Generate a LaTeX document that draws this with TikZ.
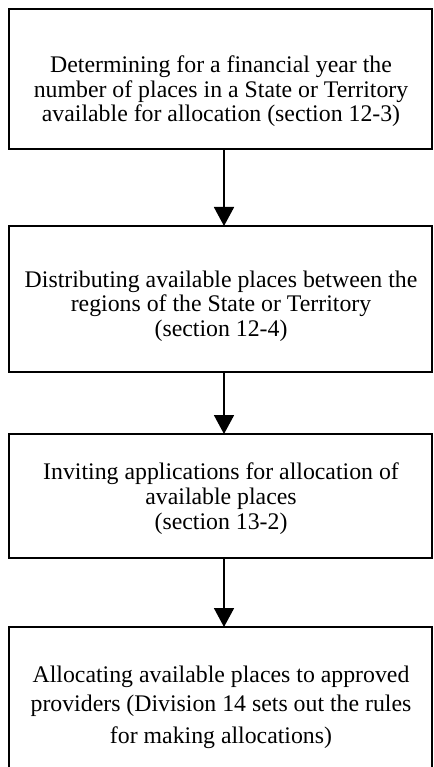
\documentclass[tikz,border=0pt]{standalone}
\usepackage{fontspec}
\setmainfont{Liberation Serif}
\usetikzlibrary{arrows.meta}
\begin{document}
\begin{tikzpicture}[x=1pt,y=-1pt,
  stepbox/.style={draw=black,line width=1.8pt,rectangle,minimum width=423pt,inner sep=0pt,outer sep=0pt},
  txt/.style={anchor=base,inner sep=0pt,font=\fontsize{23.8}{24.5}\selectfont},
  flow/.style={line width=1.8pt,-{Triangle[width=20pt,length=19pt]}}]
\useasboundingbox (0,0) rectangle (433,767);
\clip (0,0) rectangle (433,767);
\fill[white] (0,0) rectangle (433,767);
\coordinate (ax) at (224,0);
\node[stepbox,minimum height=140pt] (b1) at (220.5,79) {};
\node[stepbox,minimum height=146pt] (b2) at (220.5,299) {};
\node[stepbox,minimum height=124pt] (b3) at (220.5,496) {};
\node[stepbox,minimum height=173pt] (b4) at (220.5,713.5) {};
\node[txt] (t1a) at (221,73) {Determining for a financial year the};
\node[txt] (t1b) at (221,97.5) {number of places in a State or Territory};
\node[txt] (t1c) at (221,122) {available for allocation (section 12-3)};
\node[txt] (t2a) at (221,287) {Distributing available places between the};
\node[txt] (t2b) at (221,311.5) {regions of the State or Territory};
\node[txt] (t2c) at (221,336) {(section 12-4)};
\node[txt] (t3a) at (221,479) {Inviting applications for allocation of};
\node[txt] (t3b) at (221,504) {available places};
\node[txt] (t3c) at (221,529) {(section 13-2)};
\node[txt] (t4a) at (221,682) {Allocating available places to approved};
\node[txt] (t4b) at (221,711) {providers (Division 14 sets out the rules};
\node[txt] (t4c) at (221,743) {for making allocations)};
\draw[flow] (b1.south -| ax) -- (b2.north -| ax);
\draw[flow] (b2.south -| ax) -- (b3.north -| ax);
\draw[flow] (b3.south -| ax) -- (b4.north -| ax);
\end{tikzpicture}
\end{document}
